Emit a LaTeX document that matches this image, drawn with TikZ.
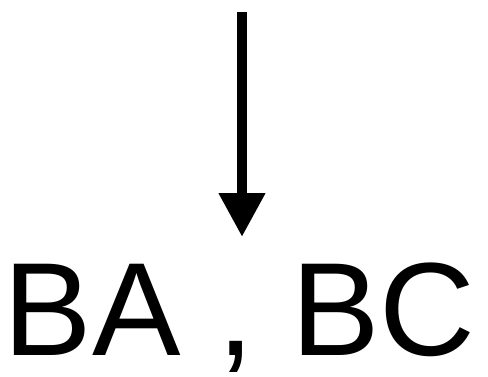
\documentclass[tikz,border=0pt]{standalone}
\usepackage{fontspec}
\setmainfont{Liberation Sans}
\usetikzlibrary{arrows.meta}
\tikzset{
  bigarrow/.style={line width=10.5pt, -{Triangle[width=44pt,length=44pt]}},
  bigtext/.style={inner sep=0pt, font=\fontsize{132.7pt}{140pt}\selectfont}
}
\begin{document}
\begin{tikzpicture}[x=1pt,y=-1pt]
\useasboundingbox (0,0) rectangle (488,376);
\coordinate (top) at (242,12);
\coordinate (tip) at (242,237);
\node[bigtext, anchor=base west] (lbl) at (3.5,355) {BA , BC};
\draw[bigarrow] (top) -- (tip);
\end{tikzpicture}
\end{document}
